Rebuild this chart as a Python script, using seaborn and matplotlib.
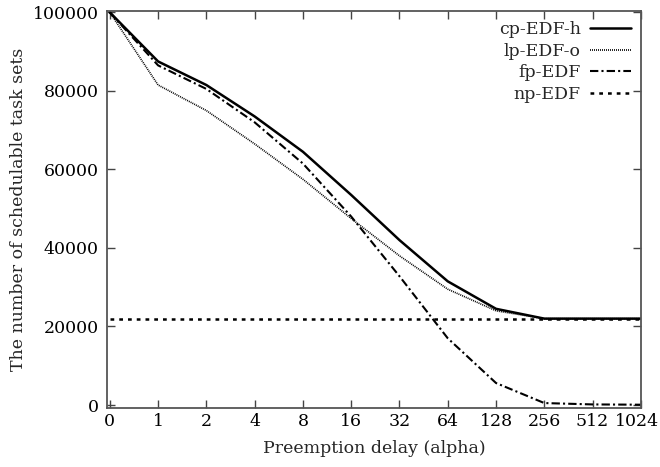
import numpy as np
import pandas as pd
import seaborn as sns
import matplotlib.pyplot as plt
import matplotlib.transforms as mtransforms

# preemption delay values on the x axis (evenly spaced, log2 steps)
delays = ["0", "1", "2", "4", "8", "16", "32", "64", "128", "256", "512", "1024"]

# number of schedulable task sets per method
cp_edf_h = [100000, 87500, 81500, 73500, 64500, 53500, 42000, 31500, 24500, 22000, 22000, 22000]
lp_edf_o = [100000, 81500, 75000, 66500, 57500, 47500, 38000, 29500, 24000, 22000, 22000, 22000]
fp_edf = [100000, 86500, 80500, 72000, 61500, 48000, 32800, 17000, 5600, 500, 150, 80]
np_edf = [22000, 22000, 22000, 22000, 22000, 22000, 22000, 22000, 22000, 22000, 22000, 22000]

methods = ["cp-EDF-h", "lp-EDF-o", "fp-EDF", "np-EDF"]
values = [cp_edf_h, lp_edf_o, fp_edf, np_edf]

# long-form table for seaborn
rows = []
for name, vals in zip(methods, values):
    for i, v in enumerate(vals):
        rows.append((i, name, v))
df = pd.DataFrame(rows, columns=["pos", "Method", "Count"])

sns.set_style("ticks")
plt.rcParams["font.family"] = ["DejaVu Serif"]
plt.rcParams["font.size"] = 12.5

fig = plt.figure(figsize=(6.6, 4.67), dpi=100)
ax = fig.add_axes([0.162, 0.126, 0.809, 0.850])

styles = {
    "cp-EDF-h": dict(ls="-", lw=1.8),
    "lp-EDF-o": dict(ls=(0, (0.6, 0.6)), lw=1.2),
    "fp-EDF": dict(ls=(0, (4, 1.5, 1, 1.5)), lw=1.5),
    "np-EDF": dict(ls=(0, (1.5, 2.0)), lw=1.8),
}

for name in methods:
    sub = df[df["Method"] == name]
    sns.lineplot(data=sub, x="pos", y="Count", color="black", ax=ax,
                 label=name, linestyle=styles[name]["ls"], lw=styles[name]["lw"])

ax.set_xlim(-0.06, 10.02)
ax.set_ylim(-800, 100300)
ax.set_xticks(range(len(delays)))
ax.set_xticklabels(delays)
ax.set_yticks([0, 20000, 40000, 60000, 80000, 100000])
ax.set_xlabel("Preemption delay (alpha)", labelpad=7)
ax.set_ylabel("The number of schedulable task sets")

ax.tick_params(direction="in", top=True, right=True, length=6, width=1, colors="#444444",
               labelcolor="black", labelsize=12.5)
ax.tick_params(axis="y", pad=6)

# last x label sits a little inside the figure edge
last = ax.get_xticklabels()[-1]
last.set_transform(last.get_transform() + mtransforms.ScaledTranslation(-4 / 100, 0, fig.dpi_scale_trans))

for s in ax.spines.values():
    s.set_color("#555555")
    s.set_linewidth(1.3)

ax.legend(loc="upper right", frameon=False, markerfirst=False, handlelength=2.4,
          labelspacing=0.28, borderaxespad=0.15, fontsize=12.5, handletextpad=0.5)

fig.savefig("out.png", dpi=100)
